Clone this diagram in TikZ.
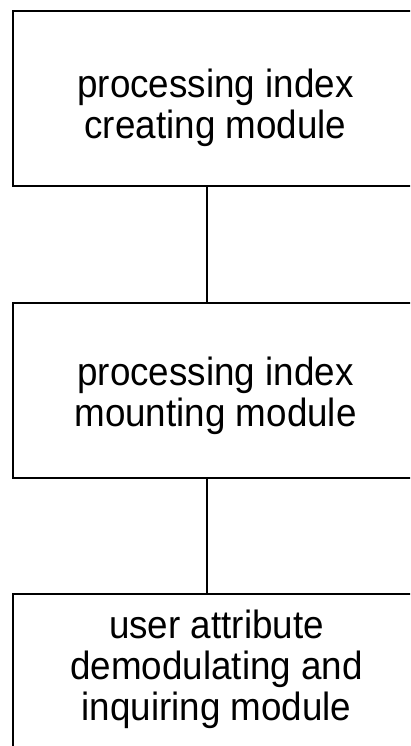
\documentclass[tikz,border=0pt]{standalone}
\usepackage{fontspec}
\setmainfont{Liberation Sans}
\newcommand{\modtext}[1]{\scalebox{1}[1.07]{\fontsize{36.8}{38.3}\selectfont\begin{tabular}{@{}c@{}}#1\end{tabular}}}
\begin{document}
\begin{tikzpicture}[x=1pt,y=-1pt,
  module/.style={draw=black,line width=2pt,minimum width=408pt,inner sep=0pt,anchor=north west},
  label/.style={inner sep=0pt,anchor=center},
  link/.style={draw=black,line width=2pt}]
\useasboundingbox (0,0) rectangle (410,746);
\clip (0,0) rectangle (410,746);
\node[module,minimum height=174pt] (m1) at (12,10.5) {};
\node[module,minimum height=175pt] (m2) at (12,301.5) {};
\node[module,minimum height=158pt] (m3) at (12,592.5) {};
\node[label] (t1) at (215.5,110) {\modtext{processing index\\creating module}};
\node[label] (t2) at (215.5,398) {\modtext{processing index\\mounting module}};
\node[label] (t3) at (216.5,671) {\modtext{user attribute\\demodulating and\\inquiring module}};
\draw[link] (m1.south -| 207,0) -- (m2.north -| 207,0);
\draw[link] (m2.south -| 207,0) -- (m3.north -| 207,0);
\end{tikzpicture}
\end{document}
